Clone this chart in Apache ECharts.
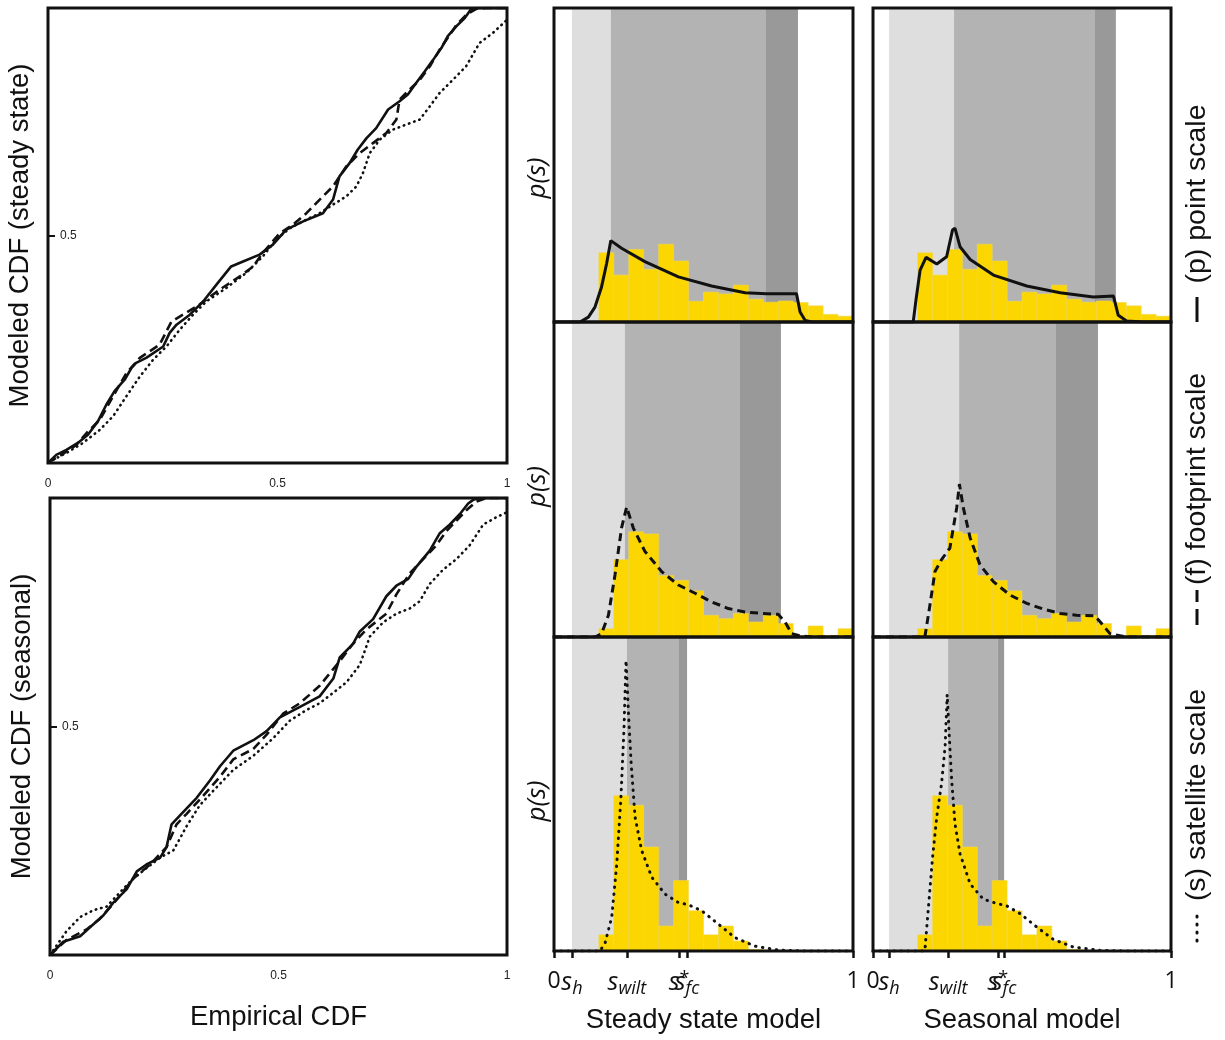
<!DOCTYPE html>
<html><head><meta charset="utf-8">
<script src="https://cdn.jsdelivr.net/npm/echarts@6/dist/echarts.min.js"></script>
<style>html,body{margin:0;padding:0;background:#fff}#c{width:1225px;height:1040px}</style>
</head><body><div id="c"></div><script>
// ---------- CDF comparison (empirical vs modeled) ----------
const cdfSteadyPoint = [[0,0],[0.018,0.018],[0.040,0.029],[0.065,0.044],[0.087,0.062],[0.109,0.092],[0.127,0.128],[0.145,0.158],[0.167,0.183],[0.182,0.209],[0.192,0.220],[0.214,0.231],[0.251,0.256],[0.265,0.286],[0.280,0.304],[0.309,0.326],[0.338,0.355],[0.367,0.392],[0.399,0.432],[0.425,0.443],[0.461,0.458],[0.490,0.480],[0.519,0.513],[0.556,0.531],[0.599,0.549],[0.621,0.579],[0.635,0.630],[0.657,0.659],[0.675,0.689],[0.694,0.714],[0.715,0.736],[0.741,0.777],[0.766,0.795],[0.784,0.810],[0.802,0.835],[0.821,0.861],[0.839,0.886],[0.857,0.912],[0.871,0.938],[0.890,0.960],[0.908,0.978],[0.922,0.998],[0.933,1],[1,1]];
const cdfSteadyFootprint = [[0,0.001],[0.025,0.015],[0.062,0.040],[0.084,0.066],[0.113,0.095],[0.142,0.147],[0.171,0.198],[0.200,0.231],[0.243,0.260],[0.269,0.311],[0.294,0.326],[0.330,0.348],[0.374,0.381],[0.418,0.410],[0.447,0.432],[0.468,0.462],[0.505,0.505],[0.534,0.524],[0.563,0.549],[0.592,0.579],[0.621,0.608],[0.650,0.652],[0.679,0.681],[0.708,0.703],[0.737,0.725],[0.759,0.755],[0.766,0.799],[0.788,0.821],[0.810,0.842],[0.832,0.872],[0.853,0.908],[0.868,0.930],[0.890,0.963],[0.911,0.985],[0.933,0.998],[0.955,1],[1,1]];
const cdfSteadySatellite = [[0,0.001],[0.040,0.022],[0.076,0.044],[0.113,0.073],[0.142,0.103],[0.171,0.147],[0.200,0.190],[0.229,0.227],[0.258,0.256],[0.287,0.293],[0.316,0.326],[0.345,0.355],[0.389,0.385],[0.432,0.418],[0.468,0.454],[0.497,0.491],[0.527,0.516],[0.563,0.535],[0.592,0.549],[0.621,0.568],[0.650,0.586],[0.672,0.608],[0.686,0.637],[0.701,0.681],[0.723,0.711],[0.752,0.733],[0.781,0.744],[0.810,0.755],[0.832,0.784],[0.853,0.813],[0.882,0.842],[0.911,0.872],[0.940,0.923],[0.969,0.945],[1,0.974]];
const cdfSeasonalPoint = [[0,0],[0.029,0.029],[0.066,0.041],[0.087,0.060],[0.117,0.087],[0.138,0.114],[0.168,0.144],[0.190,0.183],[0.211,0.198],[0.241,0.213],[0.255,0.236],[0.266,0.286],[0.284,0.305],[0.321,0.344],[0.350,0.382],[0.372,0.413],[0.401,0.447],[0.445,0.470],[0.474,0.490],[0.503,0.520],[0.547,0.543],[0.590,0.566],[0.620,0.605],[0.634,0.651],[0.663,0.681],[0.678,0.708],[0.707,0.735],[0.736,0.785],[0.758,0.808],[0.784,0.823],[0.802,0.850],[0.831,0.885],[0.853,0.923],[0.875,0.942],[0.897,0.965],[0.915,0.988],[0.926,0.996],[0.940,1],[1,1]];
const cdfSeasonalFootprint = [[0,0],[0.036,0.033],[0.080,0.056],[0.109,0.079],[0.146,0.121],[0.182,0.167],[0.219,0.198],[0.255,0.236],[0.277,0.286],[0.299,0.309],[0.335,0.348],[0.372,0.390],[0.401,0.428],[0.445,0.451],[0.474,0.482],[0.510,0.528],[0.547,0.551],[0.590,0.589],[0.634,0.643],[0.663,0.681],[0.692,0.712],[0.736,0.747],[0.758,0.789],[0.787,0.835],[0.816,0.866],[0.845,0.896],[0.867,0.927],[0.889,0.950],[0.911,0.973],[0.933,0.992],[0.955,1],[1,1]];
const cdfSeasonalSatellite = [[0,0],[0.036,0.052],[0.066,0.083],[0.095,0.098],[0.124,0.106],[0.153,0.137],[0.182,0.167],[0.211,0.190],[0.241,0.213],[0.270,0.229],[0.299,0.282],[0.328,0.328],[0.357,0.359],[0.401,0.405],[0.445,0.436],[0.488,0.474],[0.525,0.513],[0.561,0.536],[0.590,0.551],[0.620,0.574],[0.649,0.597],[0.678,0.635],[0.700,0.697],[0.729,0.728],[0.758,0.747],[0.787,0.758],[0.809,0.774],[0.831,0.812],[0.860,0.843],[0.889,0.866],[0.918,0.896],[0.948,0.942],[0.977,0.958],[1,0.969]];

// ---------- Histograms of observed soil moisture (density), bin width 0.05 ----------
const binWidth = 0.05;
const binStarts = [0.15,0.20,0.25,0.30,0.35,0.40,0.45,0.50,0.55,0.60,0.65,0.70,0.75,0.80,0.85,0.90,0.95];
const histPoint = [2.27,1.54,2.38,1.73,2.55,2.00,0.68,0.98,0.92,1.21,0.75,0.65,0.69,0.64,0.53,0.25,0.19];
const histFootprint = [0.27,2.53,3.44,3.37,2.01,1.85,1.51,0.71,0.60,0.77,0.49,0.71,0.44,0.03,0.36,0.05,0.27];
const histSatellite = [0.53,5.09,4.78,3.41,0.82,2.31,1.32,0.53,0.82,0.33,0.05,0,0,0,0,0,0];

// ---------- Modeled pdfs p(s) ----------
const pdfPointSteady = [[0,0],[0.087,0],[0.115,0.16],[0.137,0.49],[0.159,1.15],[0.176,1.92],[0.19,2.67],[0.226,2.42],[0.304,1.98],[0.416,1.48],[0.527,1.18],[0.639,0.96],[0.711,0.93],[0.811,0.93],[0.823,0.33],[0.84,0.05],[0.862,0],[1,0]];
const pdfPointSeasonal = [[0,0],[0.135,0],[0.144,0.71],[0.158,1.70],[0.178,2.12],[0.214,1.90],[0.247,2.14],[0.267,3.02],[0.275,3.08],[0.292,2.47],[0.326,2.05],[0.404,1.54],[0.516,1.18],[0.628,0.96],[0.739,0.82],[0.807,0.85],[0.823,0.22],[0.851,0.03],[0.907,0],[1,0]];
const pdfFootSteady = [[0,0],[0.137,0],[0.159,0.11],[0.182,0.71],[0.204,2.03],[0.226,3.57],[0.243,4.25],[0.265,3.57],[0.304,2.80],[0.36,2.14],[0.416,1.70],[0.472,1.43],[0.527,1.15],[0.583,0.93],[0.639,0.82],[0.695,0.77],[0.75,0.74],[0.773,0.49],[0.795,0.11],[0.828,0.03],[0.862,0],[1,0]];
const pdfFootSeasonal = [[0,0],[0.174,0],[0.191,1.04],[0.208,2.14],[0.23,2.53],[0.258,2.91],[0.281,4.23],[0.29,5.00],[0.303,4.23],[0.326,3.24],[0.359,2.36],[0.404,1.81],[0.46,1.37],[0.516,1.10],[0.572,0.91],[0.628,0.77],[0.683,0.71],[0.745,0.69],[0.767,0.44],[0.795,0.11],[0.851,0],[1,0]];
const pdfSatSteady = [[0,0],[0.154,0],[0.171,0.27],[0.193,1.10],[0.21,2.86],[0.224,5.05],[0.234,7.25],[0.241,9.53],[0.249,7.80],[0.258,6.15],[0.271,4.40],[0.293,3.30],[0.327,2.42],[0.371,1.87],[0.416,1.59],[0.449,1.52],[0.494,1.32],[0.55,0.88],[0.605,0.44],[0.672,0.16],[0.75,0.03],[0.84,0],[1,0]];
const pdfSatSeasonal = [[0,0],[0.174,0],[0.186,1.43],[0.2,3.08],[0.214,4.40],[0.23,5.49],[0.242,6.70],[0.249,8.41],[0.256,7.03],[0.264,5.60],[0.275,4.18],[0.292,3.19],[0.326,2.20],[0.37,1.70],[0.415,1.56],[0.449,1.48],[0.493,1.23],[0.549,0.79],[0.605,0.38],[0.672,0.13],[0.762,0.02],[0.851,0],[1,0]];

// ---------- Soil moisture thresholds [s_h, s_wilt, s*, s_fc] ----------
const thrPointSteady = [0.06, 0.19, 0.709, 0.816];
const thrFootSteady = [0.06, 0.237, 0.622, 0.759];
const thrSatSteady = [0.06, 0.244, 0.418, 0.445];
const thrPointSeasonal = [0.054, 0.272, 0.745, 0.815];
const thrFootSeasonal = [0.054, 0.289, 0.614, 0.755];
const thrSatSeasonal = [0.054, 0.252, 0.419, 0.44];
const tickNames = ['0', 'h', 'wilt', '*', 'fc', '1'];

// ---------- rendering ----------
const FONT = "'Liberation Sans', Arial, sans-serif";
const SYM_FONT = "'Open Sans', 'Noto Sans', sans-serif";
const INK = '#111';
const YMAX = 10.3;
const BAND_COLORS = ['#dedede', '#b4b3b4', '#9a999a'];
const YELLOW = '#fcd600';

const CDF_LS = {
  solid: {color: INK, width: 2.6, type: 'solid'},
  dashed: {color: INK, width: 2.6, type: [9, 5]},
  dotted: {color: INK, width: 2.6, type: [0.5, 5], cap: 'round'}
};
const PDF_LS = {
  solid: {color: INK, width: 3, type: 'solid'},
  dashed: {color: INK, width: 3, type: [8, 5]},
  dotted: {color: INK, width: 3, type: [0.5, 6.5], cap: 'round'}
};

const RICH = {
  n: {fontSize: 23, fontFamily: SYM_FONT, color: INK, lineHeight: 28, verticalAlign: 'top'},
  it: {fontSize: 25, fontFamily: SYM_FONT, fontStyle: 'italic', color: INK, lineHeight: 28, verticalAlign: 'top'},
  sub: {fontSize: 18, fontFamily: SYM_FONT, fontStyle: 'italic', color: INK, lineHeight: 15, verticalAlign: 'bottom'},
  sup: {fontSize: 18, fontFamily: SYM_FONT, color: INK, lineHeight: 15, verticalAlign: 'top'}
};
function tickLabel(ticks) {
  return function (v) {
    let best = 0, bd = 1e9;
    ticks.forEach((t, i) => { const d = Math.abs(t - v); if (d < bd) { bd = d; best = i; } });
    const nm = tickNames[best];
    if (nm === '0' || nm === '1') return '{n|' + nm + '}';
    if (nm === '*') return '{it|s}{sup|*}';
    return '{it|s}{sub|' + nm + '}';
  };
}

const grids = [
  {left: 48, top: 8, width: 459, height: 455},
  {left: 50, top: 498, width: 457, height: 457}
];
const colLeft = [554, 873], colWidth = [299, 298];
const rowTop = [8, 322, 637], rowHeight = [314, 315, 314];
for (let c = 0; c < 2; c++) for (let r = 0; r < 3; r++)
  grids.push({left: colLeft[c], top: rowTop[r], width: colWidth[c], height: rowHeight[r]});
grids.forEach(g => Object.assign(g, {show: true, borderColor: INK, borderWidth: 3, backgroundColor: 'transparent', z: 10}));

const xAxes = [], yAxes = [], series = [];
const extraX = [];
const TITLE_SIZE = 27.5;

// CDF panels
const cdfPanels = [
  {g: 0, name: 'Modeled CDF (steady state)', lines: [cdfSteadyPoint, cdfSteadyFootprint, cdfSteadySatellite]},
  {g: 1, name: 'Modeled CDF (seasonal)', lines: [cdfSeasonalPoint, cdfSeasonalFootprint, cdfSeasonalSatellite]}
];
cdfPanels.forEach(p => {
  xAxes.push({gridIndex: p.g, type: 'value', min: 0, max: 1, interval: 0.5,
    axisLine: {show: false}, splitLine: {show: false}, axisTick: {show: false},
    axisLabel: {fontSize: 12, color: '#222', margin: 15, fontFamily: FONT},
    name: p.g === 1 ? 'Empirical CDF' : '', nameLocation: 'middle', nameGap: 48,
    nameTextStyle: {fontSize: TITLE_SIZE, color: INK, fontFamily: FONT}});
  yAxes.push({gridIndex: p.g, type: 'value', min: 0, max: 1,
    axisLine: {show: false}, splitLine: {show: false},
    axisTick: {show: true, inside: true, customValues: [0.5], length: 7, lineStyle: {color: INK, width: 2}},
    axisLabel: {inside: true, customValues: [0.5], fontSize: 12, margin: 12, color: '#222', fontFamily: FONT},
    name: p.name, nameLocation: 'middle', nameGap: 14,
    nameTextStyle: {fontSize: TITLE_SIZE, color: INK, fontFamily: FONT}});
  ['solid', 'dashed', 'dotted'].forEach((st, i) => {
    series.push({type: 'line', xAxisIndex: p.g, yAxisIndex: p.g, data: p.lines[i],
      symbol: 'none', smooth: false, clip: true, lineStyle: CDF_LS[st], z: 3, silent: true});
  });
});

// Histogram panels
const histPanels = [
  {c: 0, r: 0, thr: thrPointSteady, hist: histPoint, pdf: pdfPointSteady, st: 'solid'},
  {c: 0, r: 1, thr: thrFootSteady, hist: histFootprint, pdf: pdfFootSteady, st: 'dashed'},
  {c: 0, r: 2, thr: thrSatSteady, hist: histSatellite, pdf: pdfSatSteady, st: 'dotted'},
  {c: 1, r: 0, thr: thrPointSeasonal, hist: histPoint, pdf: pdfPointSeasonal, st: 'solid'},
  {c: 1, r: 1, thr: thrFootSeasonal, hist: histFootprint, pdf: pdfFootSeasonal, st: 'dashed'},
  {c: 1, r: 2, thr: thrSatSeasonal, hist: histSatellite, pdf: pdfSatSeasonal, st: 'dotted'}
];
const colTitle = ['Steady state model', 'Seasonal model'];
const colTicks = [[0].concat(thrSatSteady, [1]), [0].concat(thrSatSeasonal, [1])];

histPanels.forEach((p, k) => {
  const g = 2 + k;
  const bottom = p.r === 2;
  const ticks = colTicks[p.c];
  xAxes.push({gridIndex: g, type: 'value', min: 0, max: 1, position: 'bottom',
    axisLine: {show: false}, splitLine: {show: false},
    axisTick: {show: bottom, customValues: ticks, length: 7, lineStyle: {color: INK, width: 2.5}},
    axisLabel: {show: bottom, customValues: ticks.slice(1), formatter: tickLabel(ticks), rich: RICH, margin: 19,
      hideOverlap: false, showMinLabel: true, showMaxLabel: true},
    name: bottom ? colTitle[p.c] : '', nameLocation: 'middle', nameGap: 55,
    nameTextStyle: {fontSize: TITLE_SIZE, color: INK, fontFamily: FONT}});
  if (bottom) {
    // separate axis carrying only the "0" label so it is not dropped next to s_h
    extraX.push({gridIndex: g, type: 'value', min: 0, max: 1, position: 'bottom', offset: 0,
      axisLine: {show: false}, splitLine: {show: false}, axisTick: {show: false},
      axisLabel: {show: true, customValues: [ticks[0]], formatter: tickLabel(ticks), rich: RICH, margin: 19,
        showMinLabel: true, showMaxLabel: true}});
  }
  yAxes.push({gridIndex: g, type: 'value', min: 0, max: YMAX,
    axisLine: {show: false}, axisTick: {show: false}, axisLabel: {show: false}, splitLine: {show: false},
    name: p.c === 0 ? 'p(s)' : '', nameLocation: 'middle', nameGap: 3,
    nameTextStyle: {fontSize: 26, fontStyle: 'italic', color: INK, fontFamily: SYM_FONT,
      padding: [0, p.r === 0 ? 26 : 14, 0, 0]}});
  // moisture regime bands
  const bands = [[p.thr[0], p.thr[1], 0], [p.thr[1], p.thr[2], 1], [p.thr[2], p.thr[3], 2]];
  series.push({type: 'custom', xAxisIndex: g, yAxisIndex: g, data: bands, z: 1, silent: true,
    encode: {x: [0, 1]},
    renderItem: function (params, api) {
      const a = api.coord([api.value(0), YMAX]);
      const b = api.coord([api.value(1), 0]);
      return {type: 'rect', shape: {x: a[0], y: a[1], width: b[0] - a[0], height: b[1] - a[1]},
        style: {fill: BAND_COLORS[api.value(2)]}};
    }});
  // histogram bars
  const bars = binStarts.map((s, i) => [s, p.hist[i]]);
  series.push({type: 'custom', xAxisIndex: g, yAxisIndex: g, data: bars, z: 2, silent: true,
    encode: {x: 0, y: 1},
    renderItem: function (params, api) {
      const x0 = api.value(0), h = api.value(1);
      const a = api.coord([x0, h]);
      const b = api.coord([x0 + binWidth, 0]);
      return {type: 'rect', shape: {x: a[0], y: a[1], width: b[0] - a[0], height: b[1] - a[1]},
        style: {fill: YELLOW, stroke: '#f2d94a', lineWidth: 0.6}};
    }});
  // modeled pdf
  series.push({type: 'line', xAxisIndex: g, yAxisIndex: g, data: p.pdf, symbol: 'none',
    smooth: false, clip: true, lineStyle: PDF_LS[p.st], z: 3, silent: true});
});
extraX.forEach(a => xAxes.push(a));

// Right-hand rotated legend
const LEG_FONT = '28.5px ' + FONT;
const graphic = [
  {type: 'text', x: 1197, y: 194, rotation: Math.PI / 2, silent: true,
    style: {text: '(p) point scale', font: LEG_FONT, fill: INK, align: 'center', verticalAlign: 'middle'}},
  {type: 'line', silent: true, shape: {x1: 1197, y1: 297, x2: 1197, y2: 322}, style: {stroke: INK, lineWidth: 3}},
  {type: 'text', x: 1197, y: 479, rotation: Math.PI / 2, silent: true,
    style: {text: '(f) footprint scale', font: LEG_FONT, fill: INK, align: 'center', verticalAlign: 'middle'}},
  {type: 'line', silent: true, shape: {x1: 1197, y1: 590, x2: 1197, y2: 602}, style: {stroke: INK, lineWidth: 3}},
  {type: 'line', silent: true, shape: {x1: 1197, y1: 609, x2: 1197, y2: 625}, style: {stroke: INK, lineWidth: 3}},
  {type: 'text', x: 1197, y: 795, rotation: Math.PI / 2, silent: true,
    style: {text: '(s) satellite scale', font: LEG_FONT, fill: INK, align: 'center', verticalAlign: 'middle'}},
  {type: 'line', silent: true, shape: {x1: 1197, y1: 916, x2: 1197, y2: 946}, style: {stroke: INK, lineWidth: 3, lineDash: [1, 7], lineCap: 'round'}}
];

const chart = echarts.init(document.getElementById('c'), null, {renderer: 'canvas'});
chart.setOption({
  animation: false,
  backgroundColor: '#fff',
  textStyle: {fontFamily: FONT},
  grid: grids,
  xAxis: xAxes,
  yAxis: yAxes,
  series: series,
  graphic: graphic
});
</script></body></html>
